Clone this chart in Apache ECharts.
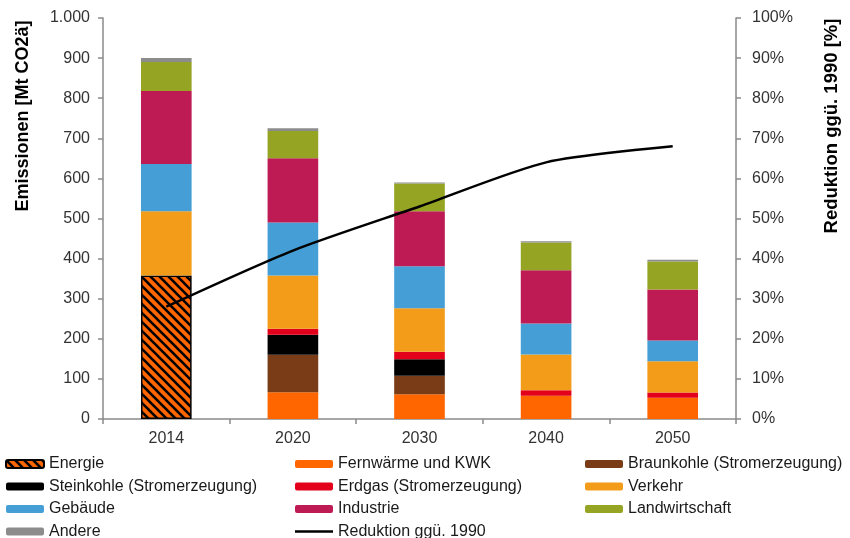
<!DOCTYPE html>
<html>
<head>
<meta charset="utf-8">
<script src="https://cdn.jsdelivr.net/npm/echarts@6/dist/echarts.min.js"></script>
<style>
  html, body { margin: 0; padding: 0; background: #ffffff; }
  #chart { width: 850px; height: 538px; }
</style>
</head>
<body>
<div id="chart"></div>
<script>
// Emissionen je Sektor [Mt CO2ä] und Reduktion ggü. 1990 [%]
const years = ['2014', '2020', '2030', '2040', '2050'];
const energie        = [358, null, null, null, null];
const fernwaerme     = [null, 67, 62, 58, 53];
const braunkohle     = [null, 93, 46, null, null];
const steinkohle     = [null, 50, 41, null, null];
const erdgas         = [null, 15, 19, 14, 13];
const verkehr        = [160, 133, 108, 89, 78];
const gebaeude       = [118, 132, 105, 77, 52];
const industrie      = [182, 160, 137, 133, 127];
const landwirtschaft = [72, 68, 69, 69, 70];
const andere         = [10, 7, 3, 3, 4];
const reduktion      = [28, 42, 53, 64, 68];

const FONT = '"Liberation Sans", Arial, sans-serif';

// hatched fill for the "Energie" block: orange with black diagonal stripes
function hatch() {
  const s = 9;
  const c = document.createElement('canvas');
  c.width = s; c.height = s;
  const g = c.getContext('2d');
  g.fillStyle = '#FF6600';
  g.fillRect(0, 0, s, s);
  g.strokeStyle = '#000000';
  g.lineWidth = 2.6;
  for (const off of [-s, 0, s]) {
    g.beginPath();
    g.moveTo(-1, off - 1);
    g.lineTo(s + 1, s + off + 1);
    g.stroke();
  }
  return c;
}

function bar(name, data, color, extra) {
  return Object.assign({
    name: name,
    type: 'bar',
    stack: 'total',
    data: data,
    barCategoryGap: '60%',
    itemStyle: { color: color },
    emphasis: { disabled: true }
  }, extra || {});
}

const chart = echarts.init(document.getElementById('chart'), null, { renderer: 'canvas' });

const legendBase = {
  orient: 'vertical',
  top: 456,
  height: 120,
  padding: 0,
  itemWidth: 38,
  itemHeight: 8,
  itemGap: 6.5,
  selectedMode: false,
  textStyle: { fontFamily: FONT, fontSize: 16, color: '#1a1a1a', lineHeight: 16 }
};

const lineIcon = 'path://M0,0H38V2.5H0Z';

chart.setOption({
  animation: false,
  backgroundColor: '#ffffff',
  grid: { left: 103, right: 114, top: 18, bottom: 119, containLabel: false },
  legend: [
    Object.assign({}, legendBase, { left: 5,   data: ['Energie', 'Steinkohle (Stromerzeugung)', 'Gebäude', 'Andere'] }),
    Object.assign({}, legendBase, { left: 295, data: ['Fernwärme und KWK', 'Erdgas (Stromerzeugung)', 'Industrie',
      { name: 'Reduktion ggü. 1990', icon: lineIcon }] }),
    Object.assign({}, legendBase, { left: 585, data: ['Braunkohle (Stromerzeugung)', 'Verkehr', 'Landwirtschaft'] })
  ],
  xAxis: {
    type: 'category',
    data: years,
    axisLine: { show: true, lineStyle: { color: '#8a8a8a', width: 1.5 } },
    axisTick: { show: true, length: 5, lineStyle: { color: '#8a8a8a', width: 1.5 } },
    axisLabel: { fontFamily: FONT, fontSize: 16, color: '#333333', margin: 12 }
  },
  yAxis: [
    {
      type: 'value',
      min: 0, max: 1000, interval: 100,
      axisLine: { show: true, lineStyle: { color: '#8a8a8a', width: 1.5 } },
      axisTick: { show: true, length: 5, lineStyle: { color: '#8a8a8a', width: 1.5 } },
      splitLine: { show: false },
      axisLabel: {
        fontFamily: FONT, fontSize: 16, color: '#333333', margin: 13,
        formatter: v => v >= 1000 ? Math.floor(v / 1000) + '.' + String(v % 1000).padStart(3, '0') : String(v)
      }
    },
    {
      type: 'value',
      min: 0, max: 100, interval: 10,
      position: 'right',
      axisLine: { show: true, lineStyle: { color: '#8a8a8a', width: 1.5 } },
      axisTick: { show: true, length: 5, lineStyle: { color: '#8a8a8a', width: 1.5 } },
      splitLine: { show: false },
      axisLabel: { fontFamily: FONT, fontSize: 16, color: '#333333', margin: 16, formatter: '{value}%' }
    }
  ],
  graphic: [
    {
      type: 'text', x: 23, y: 116, rotation: Math.PI / 2,
      style: { text: 'Emissionen [Mt CO2ä]', font: 'bold 18px ' + FONT, fill: '#000000', align: 'center', verticalAlign: 'middle' }
    },
    {
      type: 'text', x: 832, y: 126, rotation: Math.PI / 2,
      style: { text: 'Reduktion ggü. 1990 [%]', font: 'bold 18.5px ' + FONT, fill: '#000000', align: 'center', verticalAlign: 'middle' }
    }
  ],
  series: [
    bar('Energie', energie, null, {
      itemStyle: { color: { image: hatch(), repeat: 'repeat' }, borderColor: '#000000', borderWidth: 1.5 }
    }),
    bar('Fernwärme und KWK', fernwaerme, '#FF6600'),
    bar('Braunkohle (Stromerzeugung)', braunkohle, '#7A3B17'),
    bar('Steinkohle (Stromerzeugung)', steinkohle, '#000000'),
    bar('Erdgas (Stromerzeugung)', erdgas, '#E2001A'),
    bar('Verkehr', verkehr, '#F39C19'),
    bar('Gebäude', gebaeude, '#459FD6'),
    bar('Industrie', industrie, '#BE1A54'),
    bar('Landwirtschaft', landwirtschaft, '#95A523'),
    bar('Andere', andere, '#8C8C8C'),
    {
      name: 'Reduktion ggü. 1990',
      type: 'line',
      yAxisIndex: 1,
      data: reduktion,
      smooth: 0.25,
      symbol: 'none',
      z: 5,
      itemStyle: { color: '#000000' },
      lineStyle: { color: '#000000', width: 2.5 },
      emphasis: { disabled: true }
    }
  ]
});
</script>
</body>
</html>
